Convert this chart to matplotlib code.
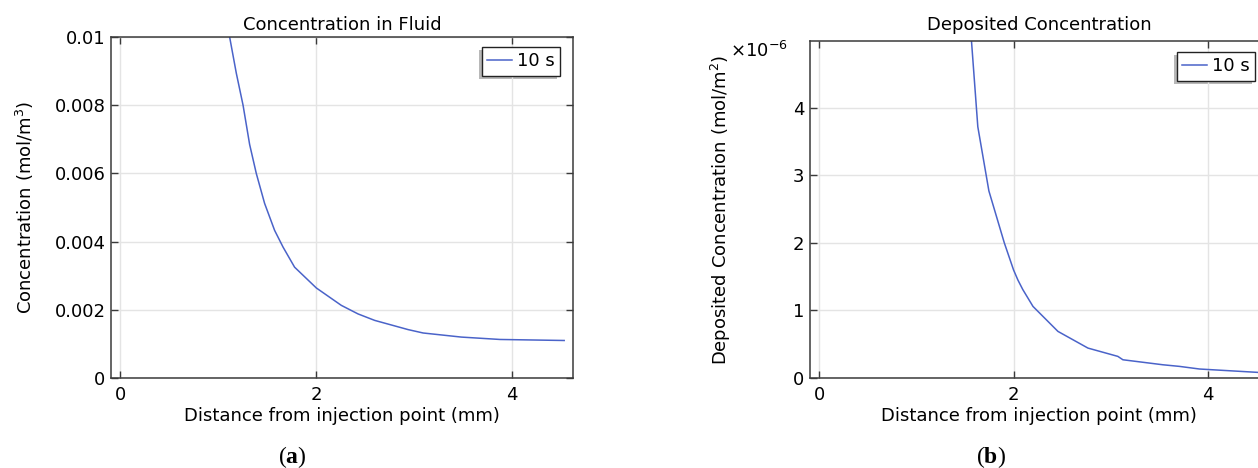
import matplotlib
matplotlib.use("Agg")
import matplotlib.pyplot as plt
from matplotlib.patches import Rectangle
from matplotlib.ticker import FuncFormatter

plt.rcParams['font.family'] = ['DejaVu Sans']
plt.rcParams['mathtext.fontset'] = 'custom'
plt.rcParams['mathtext.rm'] = 'Liberation Serif'
plt.rcParams['mathtext.bf'] = 'Liberation Serif:bold'
plt.rcParams['mathtext.sf'] = 'DejaVu Sans'

# (a) concentration in fluid
fluid_x = [1.115, 1.183, 1.252, 1.319, 1.387, 1.472, 1.574, 1.66, 1.778, 2.0,
           2.255, 2.425, 2.595, 2.936, 3.09, 3.48, 3.875, 4.53]
fluid_c = [0.0100, 0.00894, 0.0080, 0.00685, 0.0060, 0.00512, 0.00433,
           0.00384, 0.00325, 0.00264, 0.00213, 0.00188, 0.00169, 0.00142,
           0.00132, 0.0012, 0.00113, 0.0011]

# (b) deposited concentration (mol/m2)
dep_x = [1.52, 1.632, 1.746, 1.905, 2.0, 2.045, 2.095, 2.2, 2.457, 2.766,
         3.074, 3.126, 3.537, 3.708, 3.915, 4.53]
dep_c = [5.9e-6, 3.72e-6, 2.77e-6, 2.0e-6, 1.6e-6, 1.45e-6, 1.31e-6, 1.06e-6,
         0.69e-6, 0.443e-6, 0.32e-6, 0.27e-6, 0.196e-6, 0.172e-6, 0.133e-6,
         0.082e-6]

x_ticks = [0, 2, 4]
fluid_yticks = [0, 0.002, 0.004, 0.006, 0.008, 0.01]
fluid_ylabels = ['0', '0.002', '0.004', '0.006', '0.008', '0.01']
dep_yticks = [0, 1e-6, 2e-6, 3e-6, 4e-6]

LINE = '#4a63c9'
W, H = 1258, 468

fig = plt.figure(figsize=(W / 100, H / 100), dpi=100)
axA = fig.add_axes([111 / W, 90 / H, 462 / W, 341 / H])
axB = fig.add_axes([810 / W, 90 / H, 458 / W, 337 / H])


def style(ax):
  for s in ax.spines.values():
    s.set_color('#3a3a3a')
    s.set_linewidth(1.1)
  ax.tick_params(direction='in', length=5, width=1, color='#3a3a3a',
                 top=True, right=True, labelsize=13, pad=4)
  ax.tick_params(axis='x', pad=6)
  ax.grid(True, color='#e4e4e4', linewidth=1)
  ax.set_axisbelow(True)
  ax.set_xticks(x_ticks)
  ax.set_xlim(-0.096, 4.62)
  ax.set_xlabel('Distance from injection point (mm)', fontsize=13)


def legend(ax, anchor):
  leg = ax.legend(loc='upper right', bbox_to_anchor=anchor, fontsize=13,
                  handlelength=1.4, handletextpad=0.25, borderpad=0.3,
                  borderaxespad=0, fancybox=False, framealpha=1)
  leg.get_frame().set_edgecolor('#222222')
  leg.get_frame().set_linewidth(1)
  return leg


# panel (a)
axA.plot(fluid_x, fluid_c, color=LINE, lw=1.1, label='10 s')
style(axA)
axA.set_ylim(0, 0.01)
axA.set_yticks(fluid_yticks)
axA.set_yticklabels(fluid_ylabels)
axA.set_title('Concentration in Fluid', fontsize=13, pad=5)
axA.set_ylabel(r'Concentration (mol/m$^{\mathsf{3}}$)', fontsize=13)
axA.yaxis.set_label_coords(-0.163, 0.5)
axA.xaxis.set_label_coords(0.5, -0.085)
legA = legend(axA, (0.972, 0.971))

# panel (b)
axB.plot(dep_x, dep_c, color=LINE, lw=1.1, label='10 s')
style(axB)
axB.set_ylim(0, 4.99e-6)
axB.set_yticks(dep_yticks)
axB.yaxis.set_major_formatter(FuncFormatter(lambda v, p: '%g' % round(v * 1e6, 6)))
axB.set_title('Deposited Concentration', fontsize=13, pad=8)
axB.set_ylabel(r'Deposited Concentration (mol/m$^{\mathsf{2}}$)', fontsize=13)
axB.yaxis.set_label_coords(-0.168, 0.5)
axB.xaxis.set_label_coords(0.5, -0.087)
axB.text(-0.048, 1.0, r'×10$^{\mathsf{-6}}$', transform=axB.transAxes,
         ha='right', va='top', fontsize=13)
legB = legend(axB, (0.972, 0.968))

#shadow down-left of each legend box
fig.canvas.draw()
for leg in (legA, legB):
  bb = leg.get_frame().get_window_extent()
  fig.patches.append(Rectangle((bb.x0 - 3, bb.y0 - 3), bb.width, bb.height,
                               transform=None, facecolor='#8a8a8a',
                               edgecolor='none', alpha=0.6, zorder=0))
for ax in (axA, axB):
  ax.set_zorder(1)
  ax.patch.set_alpha(0)

# panel captions
fig.text(292 / W, 1 - 457 / H, r'($\mathbf{a}$)', ha='center', va='center',
         fontsize=17, family='Liberation Serif')
fig.text(991 / W, 1 - 457 / H, r'($\mathbf{b}$)', ha='center', va='center',
         fontsize=17, family='Liberation Serif')

fig.savefig('out.png', dpi=100)
